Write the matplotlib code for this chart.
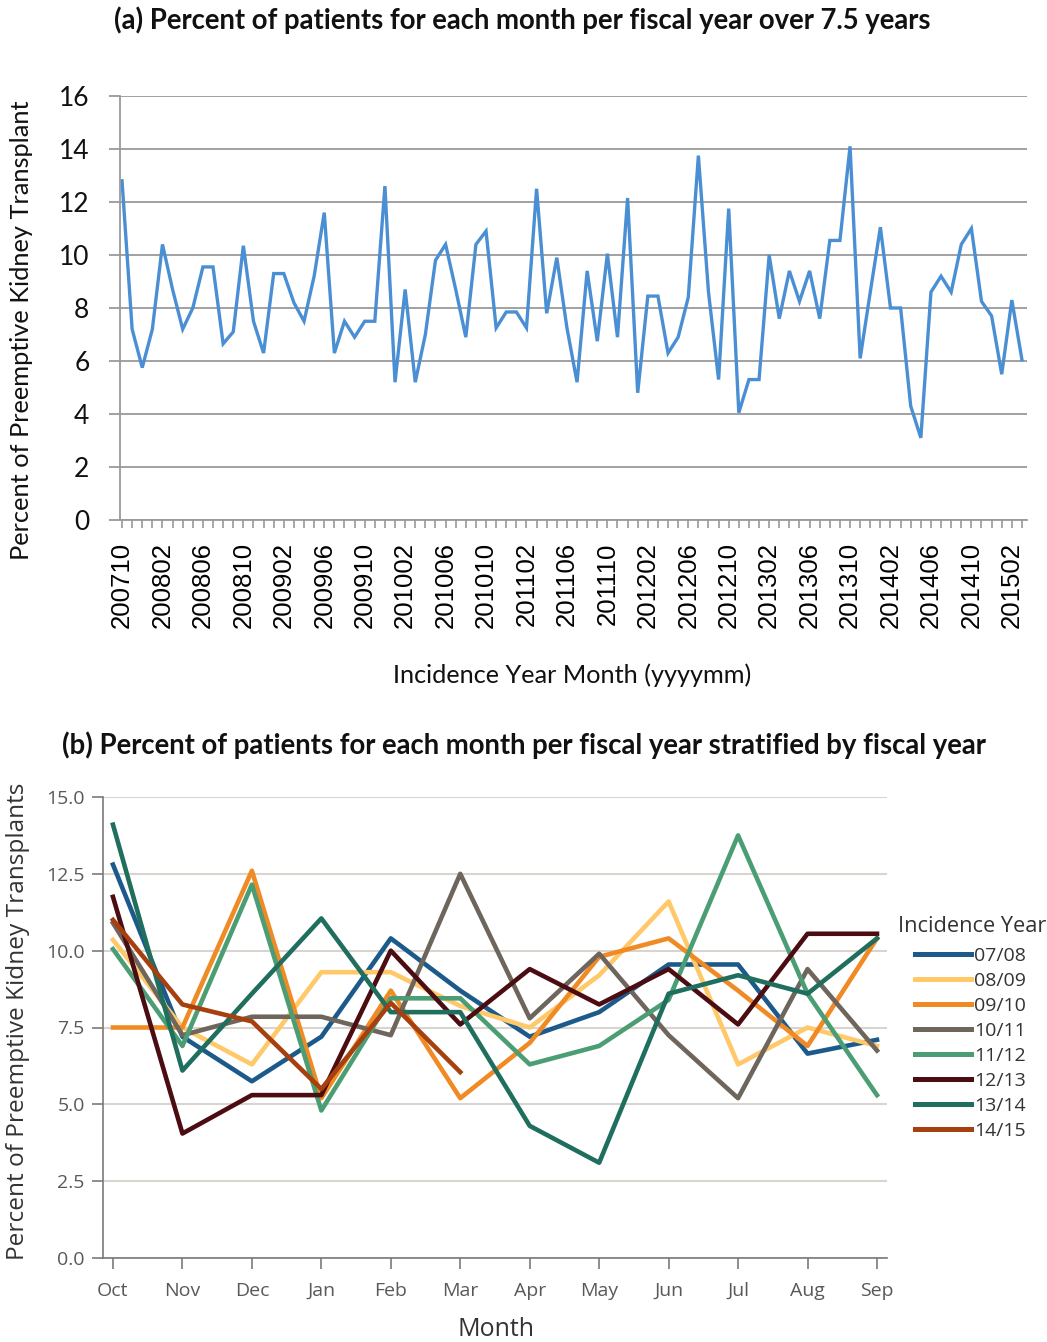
import matplotlib
matplotlib.use("Agg")
import matplotlib.pyplot as plt
import numpy as np

# ---------------- data ----------------
months = ["Oct", "Nov", "Dec", "Jan", "Feb", "Mar", "Apr", "May", "Jun", "Jul", "Aug", "Sep"]
fiscal_years = ["07/08", "08/09", "09/10", "10/11", "11/12", "12/13", "13/14", "14/15"]

fy0708 = [12.8, 7.2, 5.75, 7.2, 10.4, 8.7, 7.2, 8.0, 9.55, 9.55, 6.65, 7.1]
fy0809 = [10.35, 7.5, 6.3, 9.3, 9.3, 8.2, 7.5, 9.2, 11.6, 6.3, 7.5, 6.9]
fy0910 = [7.5, 7.5, 12.6, 5.2, 8.7, 5.2, 7.0, 9.8, 10.4, 8.7, 6.9, 10.4]
fy1011 = [10.9, 7.25, 7.85, 7.85, 7.25, 12.5, 7.8, 9.9, 7.25, 5.2, 9.4, 6.75]
fy1112 = [10.05, 6.9, 12.15, 4.8, 8.45, 8.45, 6.3, 6.9, 8.4, 13.75, 8.6, 5.3]
fy1213 = [11.75, 4.05, 5.3, 5.3, 10.0, 7.6, 9.4, 8.25, 9.4, 7.6, 10.55, 10.55]
fy1314 = [14.1, 6.1, 8.6, 11.05, 8.0, 8.0, 4.3, 3.1, 8.6, 9.2, 8.6, 10.4]
fy1415 = [11.0, 8.25, 7.7, 5.5, 8.3, 6.05]

fy_series = [fy0708, fy0809, fy0910, fy1011, fy1112, fy1213, fy1314, fy1415]
fy_colors = ["#1b5a8a", "#ffc869", "#f08a24", "#6e655d", "#4b9e74", "#4b0d12", "#1f6e5e", "#a6400f"]

# full monthly series Oct 2007 .. Mar 2015 (same data, chronological)
monthly = [v for s in fy_series for v in s]
top_tick_labels = ["200710", "200802", "200806", "200810", "200902", "200906", "200910",
                   "201002", "201006", "201010", "201102", "201106", "201110", "201202",
                   "201206", "201210", "201302", "201306", "201310", "201402", "201406",
                   "201410", "201502"]

# ---------------- figure ----------------
W, H = 1047, 1342
fig = plt.figure(figsize=(W / 100, H / 100), dpi=100)

def fx(px):
    return px / W

def fy(py):
    return 1 - py / H

# ---------- top panel ----------
ax1 = fig.add_axes([fx(120), fy(520), fx(1027) - fx(120), fy(96) - fy(520)])
x = np.arange(len(monthly))
ax1.plot(x, monthly, color="#4a8fd3", lw=2.4, solid_joinstyle="miter")
ax1.set_xlim(-0.2, len(monthly) - 0.5)
ax1.set_ylim(0, 16)
ax1.set_yticks(np.arange(0, 17, 2))
ax1.grid(axis="y", color="#9a9a9a", lw=1.3)
ax1.set_axisbelow(True)
for s in ["top", "right"]:
    ax1.spines[s].set_visible(False)
for s in ["left", "bottom"]:
    ax1.spines[s].set_color("#9a9a9a")
    ax1.spines[s].set_linewidth(1.3)
ax1.set_xticks(x, minor=True)
ax1.set_xticks(x[::4])
ax1.set_xticklabels(top_tick_labels, rotation=90, fontsize=18.5,
                    family=["Liberation Sans", "DejaVu Sans"], color="#000000")
ax1.tick_params(axis="x", which="both", length=6, width=1.2, color="#9a9a9a", pad=10)
ax1.tick_params(axis="y", length=8, width=1.3, color="#9a9a9a", pad=14)
for lab in ax1.get_yticklabels():
    lab.set_fontsize(19)
    lab.set_family(["Lato", "DejaVu Sans"])
    lab.set_color("#111111")

fig.text(0.499, fy(20), "(a) Percent of patients for each month per fiscal year over 7.5 years",
         ha="center", va="center", fontsize=19.8, fontweight="bold",
         family=["Lato", "DejaVu Sans"], color="#111111")
fig.text(fx(22), fy(330), "Percent of Preemptive Kidney Transplant", rotation=90,
         ha="center", va="center", fontsize=18.3, family=["Lato", "DejaVu Sans"], color="#111111")
fig.text(fx(572), fy(675), "Incidence Year Month (yyyymm)", ha="center", va="center",
         fontsize=18.2, family=["Lato", "DejaVu Sans"], color="#111111")

# ---------- bottom panel ----------
ax2 = fig.add_axes([fx(102.7), fy(1258), fx(886.7) - fx(102.7), fy(797) - fy(1258)])
for name, vals, col in zip(fiscal_years, fy_series, fy_colors):
    ax2.plot(np.arange(len(vals)), vals, color=col, lw=3.3, label=name)
ax2.set_xlim(-0.148, 11.14)
ax2.set_ylim(0, 15)
ax2.set_yticks(np.arange(0, 15.01, 2.5))
ax2.set_yticklabels([f"{v:.1f}" for v in np.arange(0, 15.01, 2.5)])
ax2.set_xticks(np.arange(12))
ax2.set_xticklabels(months)
ax2.grid(axis="y", color="#d9d4cf", lw=1.5)
ax2.set_axisbelow(True)
for s in ["top", "right"]:
    ax2.spines[s].set_visible(False)
for s in ["left", "bottom"]:
    ax2.spines[s].set_color("#7a7a7a")
    ax2.spines[s].set_linewidth(1.2)
ax2.tick_params(axis="both", length=8, width=1.2, color="#7a7a7a", labelcolor="#595959",
                labelsize=14, pad=5)
ax2.tick_params(axis="x", pad=9)
for lab in ax2.get_xticklabels() + ax2.get_yticklabels():
    lab.set_family(["Open Sans", "DejaVu Sans"])

fig.text(0.5, fy(745), "(b) Percent of patients for each month per fiscal year stratified by fiscal year",
         ha="center", va="center", fontsize=19.8, fontweight="bold",
         family=["Lato", "DejaVu Sans"], color="#111111")
fig.text(fx(18), fy(1021), "Percent of Preemptive Kidney Transplants", rotation=90,
         ha="center", va="center", fontsize=17.6, family=["Open Sans", "DejaVu Sans"], color="#333333")
fig.text(fx(496), fy(1329), "Month", ha="center", va="center",
         fontsize=18, family=["Open Sans", "DejaVu Sans"], color="#333333")
fig.text(fx(898), fy(926), "Incidence Year", ha="left", va="center",
         fontsize=15.7, family=["Open Sans", "DejaVu Sans"], color="#333333")

leg = ax2.legend(loc="upper left", bbox_to_anchor=(fx(915), fy(947)),
                 bbox_transform=fig.transFigure, frameon=False,
                 handlelength=2.9, handletextpad=0.15, labelspacing=0.36,
                 borderaxespad=0, borderpad=0,
                 prop={"family": ["Open Sans", "DejaVu Sans"], "size": 14})
for t in leg.get_texts():
    t.set_color("#333333")
for h in leg.legend_handles:
    h.set_linewidth(3.6)

fig.savefig("out.png", dpi=100)
